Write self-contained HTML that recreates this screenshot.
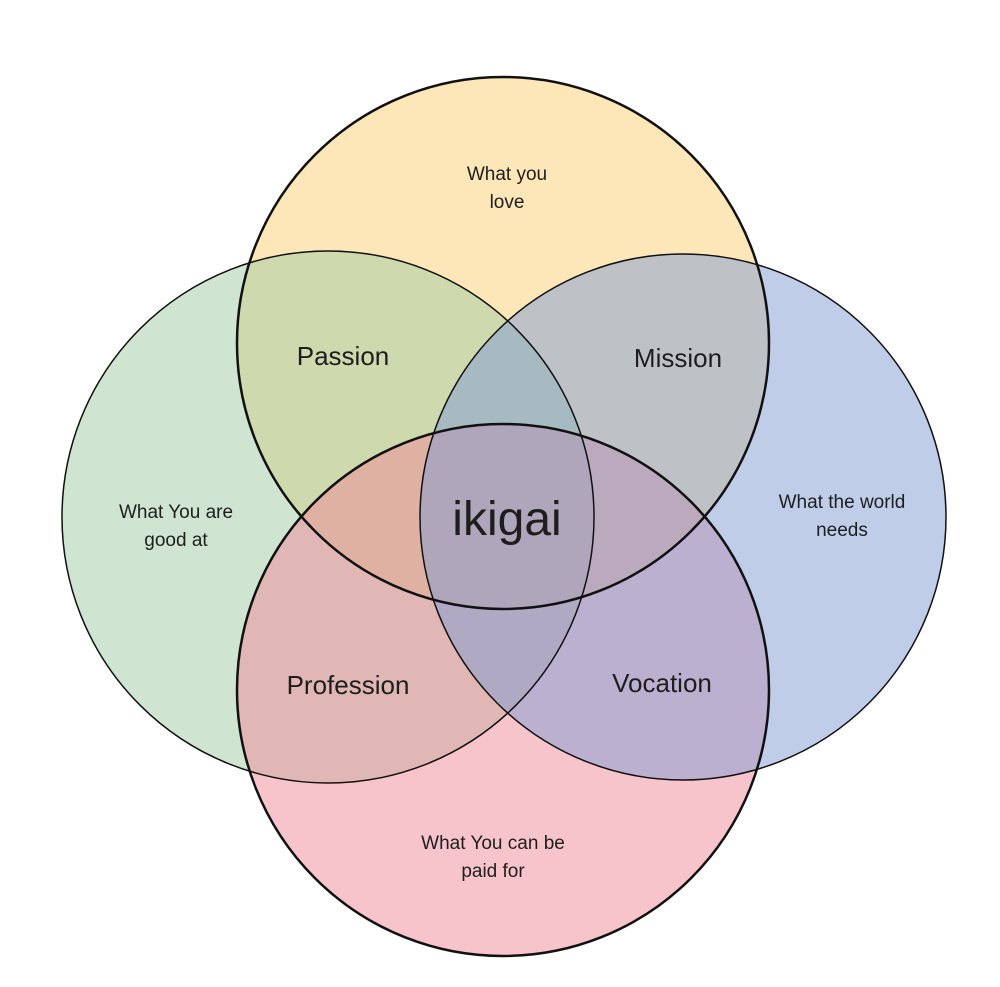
<!DOCTYPE html>
<html><head><meta charset="utf-8"><style>
html,body{margin:0;padding:0;background:#fff;}
svg{display:block}
text{font-family:"Liberation Sans","DejaVu Sans",sans-serif;fill:#1e1e1e;text-anchor:middle}
</style></head><body>
<svg width="1000" height="987" viewBox="0 0 1000 987">
<circle cx="503" cy="343" r="266" fill="#fbcf73" fill-opacity="0.5"/>
<circle cx="328" cy="517" r="266" fill="#a1cba3" fill-opacity="0.5"/>
<circle cx="503" cy="690" r="266" fill="#ef8997" fill-opacity="0.5"/>
<circle cx="683" cy="517" r="263" fill="#7f9bd3" fill-opacity="0.5"/>
<g fill="none" stroke="#111">
<circle cx="503" cy="343" r="266" stroke-width="2.5"/>
<circle cx="328" cy="517" r="266" stroke-width="1.5"/>
<circle cx="683" cy="517" r="263" stroke-width="1.5"/>
<circle cx="503" cy="690" r="266" stroke-width="2.5"/>
</g>
<text x="507" y="180" font-size="19">What you</text>
<text x="507" y="208" font-size="19">love</text>
<text x="343" y="365" font-size="26">Passion</text>
<text x="678" y="367" font-size="26">Mission</text>
<text x="176" y="518" font-size="19">What You are</text>
<text x="176" y="546" font-size="19">good at</text>
<text x="842" y="508" font-size="19">What the world</text>
<text x="842" y="536" font-size="19">needs</text>
<text x="507" y="535" font-size="48">ikigai</text>
<text x="348" y="694" font-size="26">Profession</text>
<text x="662" y="692" font-size="26">Vocation</text>
<text x="493" y="849" font-size="19">What You can be</text>
<text x="493" y="877" font-size="19">paid for</text>
</svg>
</body></html>
